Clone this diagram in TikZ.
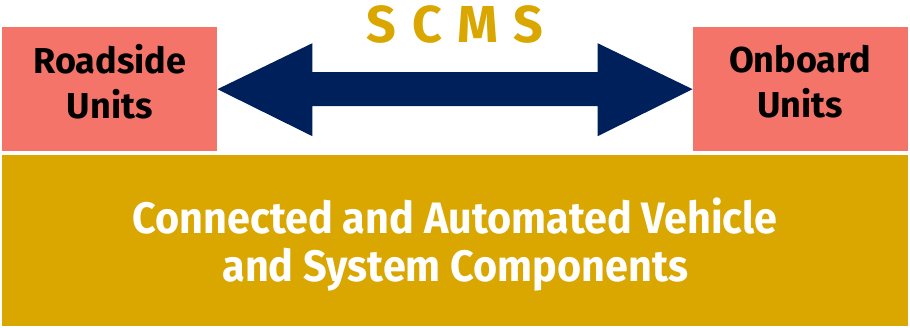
\documentclass[tikz,border=0pt]{standalone}
\usepackage{fontspec}
\setmainfont{Fira Sans}
\newfontfamily\narrowfont{Fira Sans}[FakeStretch=0.94]
\usetikzlibrary{positioning, calc}
\definecolor{unitred}{RGB}{244, 116, 105}
\definecolor{scmsgold}{RGB}{218, 166, 0}
\definecolor{scmsnavy}{RGB}{0, 32, 91}

\tikzset{
  unitbox/.style={fill=unitred, minimum width=215pt, minimum height=124pt,
        inner sep=0pt, align=center, text depth=16pt,
        font=\bfseries\fontsize{36}{45}\selectfont},
  basebox/.style={fill=scmsgold, minimum width=906pt, minimum height=171pt,
        inner sep=0pt, align=center, text=white, text depth=3pt,
        font=\narrowfont\bfseries\fontsize{44}{48}\selectfont}
}

\begin{document}
\begin{tikzpicture}[x=1pt, y=-1pt]
  \useasboundingbox (0,0) rectangle (910,328);
  % the two kinds of units on top, components underneath
  \node[unitbox, anchor=north west] (rsu) at (2,27) {Roadside\\Units};
  \node[unitbox, anchor=north east] (obu) at (908,27) {Onboard\\Units};
  \node[basebox, anchor=north west] (cav) at (2,155)
        {Connected and Automated Vehicle\\and System Components};
  % double arrow between the units
  \fill[scmsnavy] (rsu.east) -- ($(rsu.east)+(95,-46)$) -- ($(rsu.east)+(95,-17)$)
        -- ($(obu.west)+(-95,-17)$) -- ($(obu.west)+(-95,-46)$) -- (obu.west)
        -- ($(obu.west)+(-95,47)$) -- ($(obu.west)+(-95,17)$)
        -- ($(rsu.east)+(95,17)$) -- ($(rsu.east)+(95,47)$) -- cycle;
  \node[text=scmsgold, font=\bfseries\addfontfeature{LetterSpace=30}\fontsize{52}{52}\selectfont]
        (scms) at (455,24) {SCMS};
\end{tikzpicture}
\end{document}
